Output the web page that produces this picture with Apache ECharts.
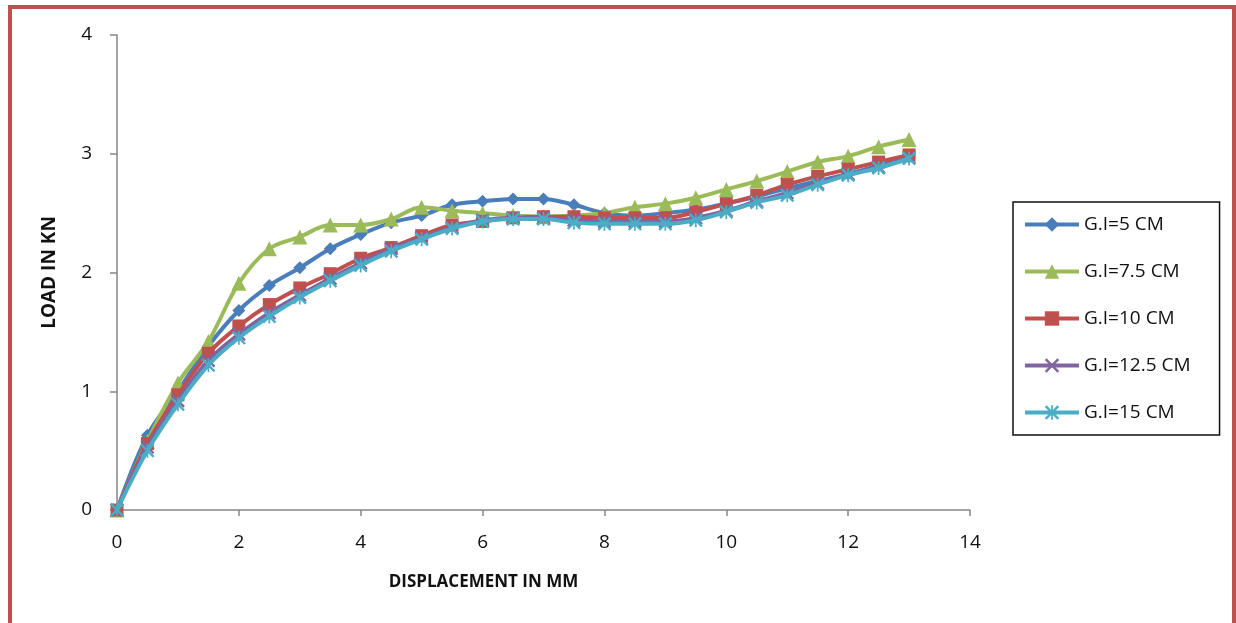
<!DOCTYPE html>
<html>
<head>
<meta charset="utf-8">
<script src="https://cdn.jsdelivr.net/npm/echarts@6/dist/echarts.min.js"></script>
<style>
html,body{margin:0;padding:0;background:#fff;}
#chart{width:1236px;height:623px;}
</style>
</head>
<body>
<div id="chart"></div>
<script>
const displacement = [0,0.5,1,1.5,2,2.5,3,3.5,4,4.5,5,5.5,6,6.5,7,7.5,8,8.5,9,9.5,10,10.5,11,11.5,12,12.5,13];
const gi5   = [0,0.63,1.0,1.38,1.68,1.89,2.04,2.2,2.32,2.42,2.48,2.57,2.6,2.62,2.62,2.57,2.5,2.48,2.5,2.53,2.58,2.64,2.71,2.77,2.83,2.9,2.97];
const gi7_5 = [0,0.58,1.07,1.42,1.91,2.2,2.3,2.4,2.4,2.45,2.55,2.52,2.5,2.48,2.47,2.48,2.5,2.55,2.58,2.63,2.7,2.77,2.85,2.93,2.98,3.06,3.12];
const gi10  = [0,0.56,0.97,1.32,1.55,1.73,1.87,1.99,2.12,2.21,2.31,2.4,2.43,2.46,2.47,2.47,2.46,2.46,2.46,2.51,2.58,2.65,2.74,2.81,2.87,2.93,2.99];
const gi12_5= [0,0.53,0.92,1.26,1.48,1.66,1.81,1.95,2.08,2.2,2.29,2.38,2.44,2.46,2.46,2.44,2.43,2.43,2.43,2.46,2.52,2.6,2.67,2.75,2.83,2.89,2.97];
const gi15  = [0,0.5,0.89,1.22,1.45,1.63,1.79,1.93,2.06,2.18,2.28,2.37,2.43,2.45,2.45,2.42,2.41,2.41,2.41,2.44,2.51,2.59,2.65,2.74,2.82,2.88,2.96];
const seriesNames = ['G.I=5 CM','G.I=7.5 CM','G.I=10 CM','G.I=12.5 CM','G.I=15 CM'];
const xTitle = 'DISPLACEMENT IN MM';
const yTitle = 'LOAD IN KN';

const colors = ['#4a7ebb','#9bbb59','#c0504d','#8064a2','#4bacc6'];
const crossPath = 'path://M0,1.2L1.2,0L10,8.8L8.8,10Z M8.8,0L10,1.2L1.2,10L0,8.8Z';
const starPath = 'path://M0,1.2L1.2,0L10,8.8L8.8,10Z M8.8,0L10,1.2L1.2,10L0,8.8Z M4.4,0L5.6,0L5.6,10L4.4,10Z';
const symbols = ['diamond','triangle','rect',crossPath,starPath];
const sizes = [13,15,13,14,14];
const allData = [gi5, gi7_5, gi10, gi12_5, gi15];

const chart = echarts.init(document.getElementById('chart'));
const font = '"Open Sans", "DejaVu Sans", sans-serif';
chart.setOption({
  animation:false,
  backgroundColor:'#fff',
  graphic:[{type:'rect',shape:{x:10,y:7,width:1224,height:640},style:{fill:'none',stroke:'#c0504d',lineWidth:4},silent:true}],
  grid:{left:117,right:266,top:35,bottom:113},
  xAxis:{type:'value',min:0,max:14,interval:2,
    name:xTitle,nameLocation:'middle',nameGap:64,
    nameTextStyle:{fontFamily:font,fontWeight:'bold',fontSize:17,color:'#111',padding:[0,120,0,0]},
    axisLine:{lineStyle:{color:'#868686',width:1.5}},
    axisTick:{show:true,length:6,lineStyle:{color:'#868686',width:1.5}},
    axisLabel:{fontFamily:font,fontSize:19,color:'#111',margin:23},
    splitLine:{show:false}},
  yAxis:{type:'value',min:0,max:4,interval:1,
    name:yTitle,nameLocation:'middle',nameGap:58,nameRotate:90,
    nameTextStyle:{fontFamily:font,fontWeight:'bold',fontSize:19,color:'#111'},
    axisLine:{show:true,lineStyle:{color:'#868686',width:1.5}},
    axisTick:{show:true,inside:false,length:7,lineStyle:{color:'#868686',width:1.5}},
    axisLabel:{fontFamily:font,fontSize:19,color:'#111',margin:25},
    splitLine:{show:false}},
  legend:{orient:'vertical',left:1013,top:202,
    backgroundColor:'#fff',borderColor:'#111',borderWidth:1.5,
    padding:[13,29,13,10],itemGap:28,itemWidth:54,itemHeight:18,
    lineStyle:{width:4},
    textStyle:{fontFamily:font,fontSize:19,color:'#111'},
    data:seriesNames},
  series: allData.map((d,i)=>({
    name:seriesNames[i],type:'line',smooth:0.35,
    data:displacement.map((x,j)=>[x,d[j]]),
    symbol:symbols[i],symbolSize:sizes[i],
    lineStyle:{color:colors[i],width:4},
    itemStyle:{color:colors[i]},
    z:2+i
  }))
});
</script>
</body>
</html>
